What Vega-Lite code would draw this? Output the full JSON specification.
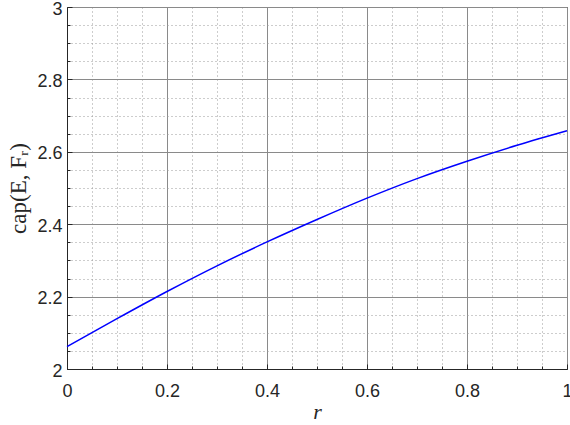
{
  "$schema": "https://vega.github.io/schema/vega-lite/v6.json",
  "autosize": {"type": "none"},
  "width": 500,
  "height": 362,
  "padding": {"left": 67, "top": 7, "right": 3, "bottom": 56},
  "background": "white",
  "config": {
    "view": {"stroke": "#262626", "strokeWidth": 1},
    "axis": {
      "labelFont": "Liberation Sans",
      "labelFontSize": 18,
      "labelColor": "#262626",
      "titleColor": "#262626",
      "domainColor": "#262626",
      "tickColor": "#262626",
      "labelFlush": false,
      "labelOverlap": false
    }
  },
  "data": {
    "values": [
      {"r": 0.0, "cap": 2.062},
      {"r": 0.1, "cap": 2.139},
      {"r": 0.2, "cap": 2.214},
      {"r": 0.3, "cap": 2.285},
      {"r": 0.4, "cap": 2.351},
      {"r": 0.5, "cap": 2.413},
      {"r": 0.6, "cap": 2.472},
      {"r": 0.7, "cap": 2.526},
      {"r": 0.8, "cap": 2.574},
      {"r": 0.9, "cap": 2.618},
      {"r": 1.0, "cap": 2.658}
    ]
  },
  "layer": [
    {
      "mark": {"type": "line", "strokeOpacity": 0},
      "encoding": {
        "x": {
          "field": "r", "type": "quantitative",
          "scale": {"domain": [0, 1], "nice": false, "zero": false},
          "axis": {
            "orient": "bottom",
            "values": [0.05, 0.1, 0.15, 0.25, 0.3, 0.35, 0.45, 0.5, 0.55, 0.65, 0.7, 0.75, 0.85, 0.9, 0.95],
            "grid": true, "gridDash": [1, 3], "gridColor": "#9a9a9a", "gridOpacity": 1,
            "labels": false, "ticks": true, "tickSize": -3, "domain": false, "title": null
          }
        },
        "y": {
          "field": "cap", "type": "quantitative",
          "scale": {"domain": [2, 3], "nice": false, "zero": false},
          "axis": {
            "orient": "left",
            "values": [2.05, 2.1, 2.15, 2.25, 2.3, 2.35, 2.45, 2.5, 2.55, 2.65, 2.7, 2.75, 2.85, 2.9, 2.95],
            "grid": true, "gridDash": [1, 3], "gridColor": "#9a9a9a", "gridOpacity": 1,
            "labels": false, "ticks": true, "tickSize": -3, "domain": false, "title": null
          }
        }
      }
    },
    {
      "mark": {"type": "line", "color": "#0000ff", "strokeWidth": 1.5, "interpolate": "monotone"},
      "encoding": {
        "x": {
          "field": "r", "type": "quantitative",
          "scale": {"domain": [0, 1], "nice": false, "zero": false},
          "axis": {
            "orient": "bottom",
            "values": [0, 0.2, 0.4, 0.6, 0.8, 1],
            "format": "~g",
            "grid": true, "gridColor": "#8a8a8a", "gridOpacity": 1,
            "tickSize": -5, "labelPadding": 18,
            "title": "r", "titleFont": "Liberation Serif", "titleFontStyle": "italic",
            "titleFontWeight": "normal", "titleFontSize": 22, "titlePadding": 1
          }
        },
        "y": {
          "field": "cap", "type": "quantitative",
          "scale": {"domain": [2, 3], "nice": false, "zero": false},
          "axis": {
            "orient": "left",
            "values": [2, 2.2, 2.4, 2.6, 2.8, 3],
            "format": "~g",
            "grid": true, "gridColor": "#8a8a8a", "gridOpacity": 1,
            "tickSize": -5, "labelPadding": 10, "labelOffset": 2,
            "title": "cap(E, Fᵣ)", "titleFont": "Liberation Serif",
            "titleFontWeight": "normal", "titleFontSize": 23, "titlePadding": 6
          }
        }
      }
    }
  ],
  "resolve": {"axis": {"x": "independent", "y": "independent"}}
}
